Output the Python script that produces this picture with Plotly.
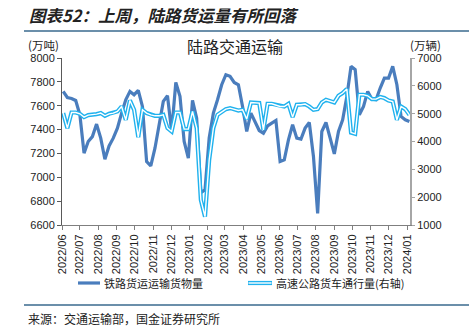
import pandas as pd
import plotly.graph_objects as go

# weekly observations
dates = pd.date_range("2022-06-03", periods=84, freq="7D")

rail = [7719, 7669, 7661, 7644, 7524, 7202, 7300, 7341, 7446, 7328,
        7151, 7263, 7328, 7412, 7538, 7650, 7720, 7692, 7728, 7594,
        7132, 7095, 7244, 7440, 7636, 7683, 7384, 7795, 7678, 7300,
        7160, 7644, 7496, 6871, 6894, 7330, 7538, 7650, 7776, 7860,
        7846, 7795, 7776, 7594, 7384, 7538, 7468, 7392, 7370, 7431,
        7454, 7476, 7132, 7146, 7314, 7440, 7328, 7320, 7412, 7459,
        7173, 6698, 7384, 7459, 7328, 7196, 7384, 7482, 7678, 7930,
        7902, 7524, 7594, 7720, 7656, 7650, 7748, 7832, 7832, 7930,
        7776, 7510, 7482, 7468]

truck = [5020, 4480, 5042, 5042, 4995, 4876, 4948, 4959, 4984, 5020,
         4923, 4995, 5020, 5078, 5258, 4779, 5474, 5139, 4156, 5139,
         5020, 4959, 4923, 4923, 4959, 4480, 4358, 5042, 5042, 4444,
         4444, 5078, 4480, 1900, 1300, 3339, 4480, 4959, 5078, 5164,
         5200, 5164, 5114, 5139, 4804, 5402, 5380, 5380, 4419, 5355,
         5355, 5319, 5258, 5258, 5355, 4876, 5319, 5319, 5344, 5258,
         5139, 5164, 5402, 5499, 5438, 5402, 5643, 5740, 5884, 4322,
         4275, 5679, 5679, 5643, 5524, 5524, 5596, 5560, 5474, 5438,
         4779, 5258, 5164, 4959]

month_ticks = pd.date_range("2022-06-01", "2024-01-01", freq="MS")
month_labels = [d.strftime("%Y/%m") for d in month_ticks]

name_rail = "铁路货运运输货物量"
name_truck = "高速公路货车通行量(右轴)"

C_RAIL = "#4A7DBD"
C_TRUCK = "#20B2EE"
C_RULE = "#3A6A8E"
FONT = "Liberation Sans, Arial, Noto Sans CJK SC"
CJK = "Noto Sans CJK SC"

fig = go.Figure()
fig.add_trace(go.Scatter(x=dates, y=truck, yaxis="y2", mode="lines",
                         line=dict(color=C_TRUCK, width=4.2), showlegend=False))
fig.add_trace(go.Scatter(x=dates, y=truck, yaxis="y2", mode="lines",
                         line=dict(color="white", width=1.4), showlegend=False))
fig.add_trace(go.Scatter(x=dates, y=rail, mode="lines",
                         line=dict(color=C_RAIL, width=3.2), showlegend=False))

W, H = 469, 328
L, R, T, B = 62, 59, 58, 103
pw, ph = W - L - R, H - T - B


def px(x):
    return (x - L) / pw


def py(y):
    return (H - B - y) / ph


shapes = [
    dict(type="line", xref="paper", yref="paper", x0=px(24), x1=px(469), y0=py(31), y1=py(31),
         line=dict(color=C_RULE, width=1.5)),
    dict(type="line", xref="paper", yref="paper", x0=px(24), x1=px(469), y0=py(305), y1=py(305),
         line=dict(color=C_RULE, width=1.5)),
    # legend samples
    dict(type="line", xref="paper", yref="paper", x0=px(78), x1=px(100), y0=py(283), y1=py(283),
         line=dict(color=C_RAIL, width=3.2)),
    dict(type="line", xref="paper", yref="paper", x0=px(248), x1=px(272), y0=py(283), y1=py(283),
         line=dict(color=C_TRUCK, width=4.2)),
    dict(type="line", xref="paper", yref="paper", x0=px(248.5), x1=px(271.5), y0=py(283), y1=py(283),
         line=dict(color="white", width=1.4)),
]

annotations = [
    dict(text="<b><i>图表52：上周，陆路货运量有所回落</i></b>", xref="paper", yref="paper",
         x=px(27), y=py(15), xanchor="left", yanchor="middle", showarrow=False,
         font=dict(family=CJK, size=16.5, color="#222222")),
    dict(text="陆路交通运输", xref="paper", yref="paper", x=px(235), y=py(46),
         xanchor="center", yanchor="middle", showarrow=False,
         font=dict(family=CJK, size=16, color="#222222")),
    dict(text="(万吨)", xref="paper", yref="paper", x=px(26), y=py(45),
         xanchor="left", yanchor="middle", showarrow=False,
         font=dict(family=CJK, size=11.5, color="#222222")),
    dict(text="(万辆)", xref="paper", yref="paper", x=px(408), y=py(45),
         xanchor="left", yanchor="middle", showarrow=False,
         font=dict(family=CJK, size=11.5, color="#222222")),
    dict(text=name_rail, xref="paper", yref="paper", x=px(102), y=py(283),
         xanchor="left", yanchor="middle", showarrow=False,
         font=dict(family=CJK, size=11, color="#222222")),
    dict(text=name_truck, xref="paper", yref="paper", x=px(274), y=py(283),
         xanchor="left", yanchor="middle", showarrow=False,
         font=dict(family=CJK, size=11, color="#222222")),
    dict(text="来源：交通运输部，国金证券研究所", xref="paper", yref="paper", x=px(26), y=py(318),
         xanchor="left", yanchor="middle", showarrow=False,
         font=dict(family=CJK, size=12, color="#222222")),
]

fig.update_layout(
    width=W, height=H,
    margin=dict(l=L, r=R, t=T, b=B, pad=0),
    paper_bgcolor="white", plot_bgcolor="white",
    font=dict(family=FONT, size=11, color="#222222"),
    showlegend=False,
    shapes=shapes,
    annotations=annotations,
    xaxis=dict(type="date", range=["2022-06-01", "2024-01-06"],
               tickvals=month_ticks, ticktext=month_labels, tickangle=-90,
               ticks="outside", ticklen=4, tickcolor="#7F7F7F",
               showline=True, linecolor="#7F7F7F", linewidth=1,
               showgrid=False, zeroline=False,
               tickfont=dict(family=FONT, size=11, color="#222222")),
    yaxis=dict(range=[6600, 8000], dtick=200, tick0=6600,
               ticks="outside", ticklen=4, tickcolor="#595959",
               showline=True, linecolor="#595959", linewidth=1,
               showgrid=False, zeroline=False,
               tickfont=dict(family=FONT, size=11, color="#222222")),
    yaxis2=dict(range=[1000, 7000], dtick=1000, tick0=1000, overlaying="y", side="right",
                ticks="outside", ticklen=3, tickcolor="#A6A6A6",
                showline=True, linecolor="#A6A6A6", linewidth=2,
                showgrid=False, zeroline=False,
                tickfont=dict(family=FONT, size=11, color="#222222")),
)

fig.write_html("out.html")
